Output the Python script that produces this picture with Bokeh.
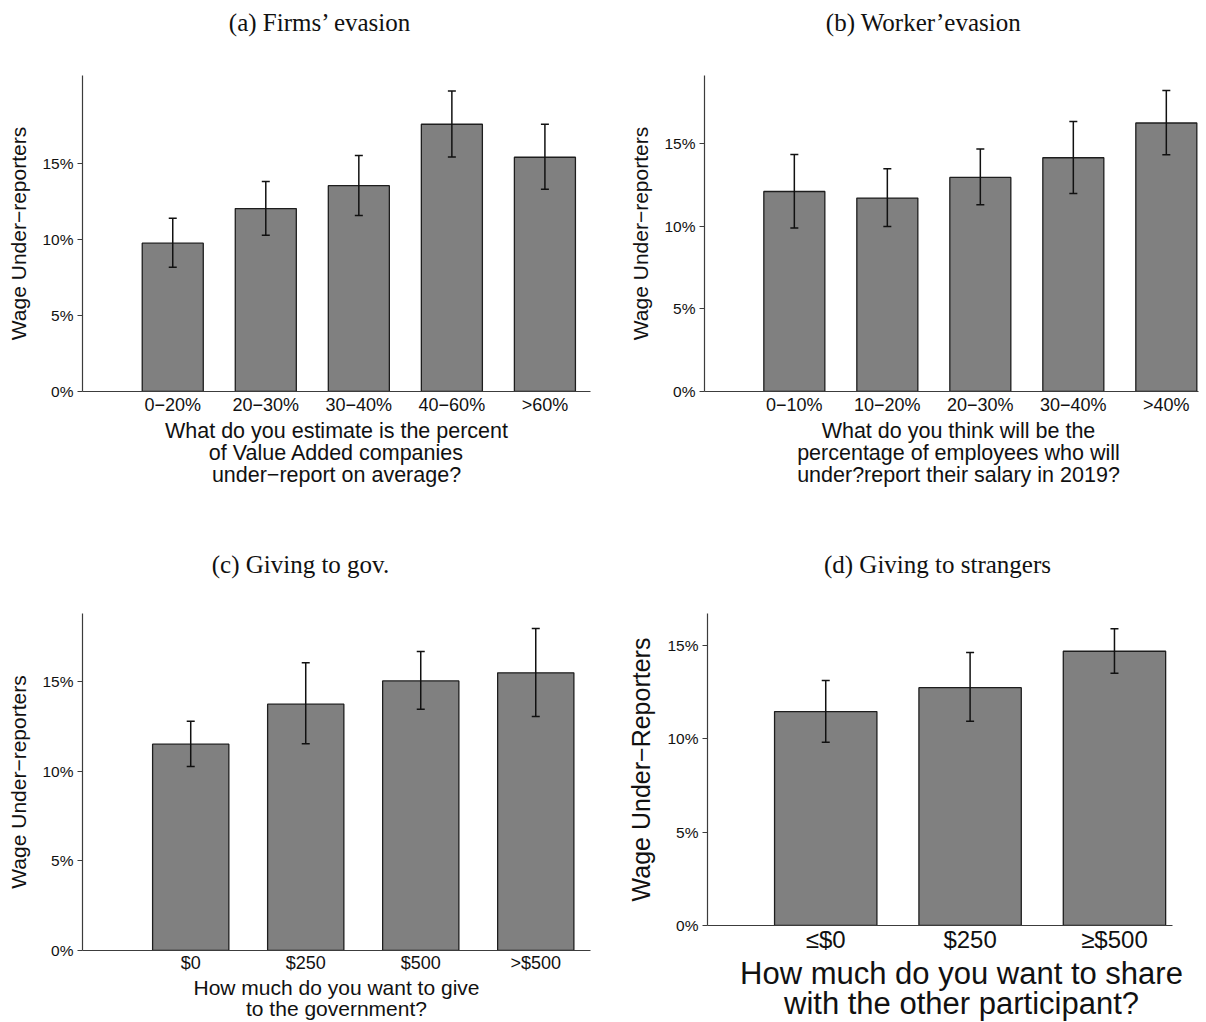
from bokeh.plotting import figure
from bokeh.layouts import column, row
from bokeh.models import (ColumnDataSource, Range1d, FixedTicker, PrintfTickFormatter,
                          Whisker, TeeHead, LinearAxis)
from bokeh.embed import file_html
from bokeh.resources import INLINE

M = "\u2212"  # typographic minus, as used in the labels

# (a) Firms' evasion
a_labels = ["0" + M + "20%", "20" + M + "30%", "30" + M + "40%", "40" + M + "60%", ">60%"]
a_share = [9.76, 12.04, 13.55, 17.59, 15.42]
a_low = [8.18, 10.29, 11.58, 15.44, 13.32]
a_high = [11.41, 13.82, 15.53, 19.78, 17.59]

# (b) Workers' evasion
b_labels = ["0" + M + "10%", "10" + M + "20%", "20" + M + "30%", "30" + M + "40%", ">40%"]
b_share = [12.09, 11.69, 12.94, 14.13, 16.23]
b_low = [9.88, 9.98, 11.29, 11.97, 14.31]
b_high = [14.33, 13.46, 14.66, 16.32, 18.19]

# (c) Giving to the government
c_labels = ["$0", "$250", "$500", ">$500"]
c_share = [11.51, 13.74, 15.04, 15.49]
c_low = [10.26, 11.53, 13.46, 13.05]
c_high = [12.79, 16.05, 16.68, 17.96]

# (d) Giving to strangers
d_labels = ["\u2264$0", "$250", "\u2265$500"]
d_share = [11.45, 12.73, 14.68]
d_low = [9.81, 10.93, 13.50]
d_high = [13.11, 14.61, 15.89]

y_ticks = [0, 5, 10, 15]

SANS = "Liberation Sans"
SERIF = "Liberation Serif"
BAR_FILL = "#808080"
EDGE = "#1e1e1e"
AXIS = "#3c3c3c"
INK = "#111111"

XLAB_CENTER = 254  # question text is centred on the plot region, px from the frame's left


def bare_axis(range_name, pos, text, standoff, font, size, line_h=1.2):
    """An axis with no line or marks that only carries one text at pixel position pos."""
    return LinearAxis(x_range_name=range_name, ticker=FixedTicker(ticks=[pos]),
                      major_label_overrides={pos: text},
                      axis_line_color=None, major_tick_line_color=None,
                      minor_tick_line_color=None, major_tick_in=0, major_tick_out=0,
                      major_label_standoff=standoff,
                      major_label_text_font=font, major_label_text_font_size=size,
                      major_label_text_line_height=line_h,
                      major_label_text_color=INK)


def make_panel(labels, share, low, high, title, xlab, ylab, *, frame_w, frame_h,
               left, right, top, bottom, x_start, x_end, y_end, bar_w,
               title_center, title_standoff, ytick_size, xtick_size, xlab_size, ylab_size,
               xlab_line_h, xtick_standoff, xlab_standoff, ylab_standoff):
    n = len(share)
    xs = list(range(1, n + 1))
    src = ColumnDataSource(dict(x=xs, top=share, lo=low, hi=high))

    p = figure(frame_width=frame_w, frame_height=frame_h,
               min_border_left=left, min_border_right=right,
               min_border_top=top, min_border_bottom=bottom,
               x_range=Range1d(x_start, x_end), y_range=Range1d(0, y_end),
               output_backend="svg", toolbar_location=None, tools="")
    p.outline_line_color = None
    p.grid.visible = False
    p.background_fill_color = "white"
    p.border_fill_color = "white"

    p.vbar(x="x", top="top", bottom=0, width=bar_w, source=src,
           fill_color=BAR_FILL, line_color=EDGE, line_width=1.3)

    p.add_layout(Whisker(source=src, base="x", lower="lo", upper="hi",
                         line_color=INK, line_width=1.5, level="overlay",
                         upper_head=TeeHead(size=8, line_color=INK, line_width=1.5),
                         lower_head=TeeHead(size=8, line_color=INK, line_width=1.5)))

    # y axis: percent ticks, outward marks
    ya = p.yaxis[0]
    ya.ticker = FixedTicker(ticks=y_ticks)
    ya.formatter = PrintfTickFormatter(format="%d%%")
    ya.minor_tick_line_color = None
    ya.major_tick_in = 0
    ya.major_tick_out = 5
    ya.major_tick_line_color = AXIS
    ya.axis_line_color = AXIS
    ya.axis_line_width = 1.2
    ya.major_label_standoff = 4
    ya.major_label_text_font = SANS
    ya.major_label_text_font_size = ytick_size
    ya.major_label_text_color = INK
    ya.axis_label = ylab
    ya.axis_label_text_font = SANS
    ya.axis_label_text_font_style = "normal"
    ya.axis_label_text_font_size = ylab_size
    ya.axis_label_text_color = INK
    ya.axis_label_standoff = ylab_standoff

    # x axis: category names, no tick marks
    xa = p.xaxis[0]
    xa.ticker = FixedTicker(ticks=xs)
    xa.major_label_overrides = {i: lab for i, lab in zip(xs, labels)}
    xa.minor_tick_line_color = None
    xa.major_tick_line_color = None
    xa.major_tick_in = 0
    xa.major_tick_out = 0
    xa.axis_line_color = AXIS
    xa.axis_line_width = 1.2
    xa.major_label_standoff = xtick_standoff
    xa.major_label_text_font = SANS
    xa.major_label_text_font_size = xtick_size
    xa.major_label_text_color = INK

    # pixel-scaled range for texts placed along the frame's width
    p.extra_x_ranges = {"px": Range1d(0, frame_w)}

    # survey question under the categories
    p.add_layout(bare_axis("px", XLAB_CENTER, xlab, xlab_standoff, SANS, xlab_size,
                           xlab_line_h), "below")

    # panel caption above the frame
    p.add_layout(bare_axis("px", title_center, title, title_standoff, SERIF, "25px"), "above")
    return p


pa = make_panel(a_labels, a_share, a_low, a_high, "(a) Firms\u2019 evasion",
                "What do you estimate is the percent\nof Value Added companies\nunder" + M + "report on average?",
                "Wage Under" + M + "reporters",
                frame_w=508, frame_h=316, left=82, right=10, top=75, bottom=139,
                x_start=0.03, x_end=5.49, y_end=20.8, bar_w=0.656,
                title_center=238, title_standoff=40, ytick_size="15.5px", xtick_size="18px",
                xlab_size="21.5px", ylab_size="21px", xlab_line_h=0.92,
                xtick_standoff=3, xlab_standoff=1, ylab_standoff=9)

pb = make_panel(b_labels, b_share, b_low, b_high, "(b) Worker\u2019evasion",
                "What do you think will be the\npercentage of employees who will\nunder?report their salary in 2019?",
                "Wage Under" + M + "reporters",
                frame_w=494, frame_h=316, left=104, right=8, top=75, bottom=139,
                x_start=0.034, x_end=5.346, y_end=19.1, bar_w=0.656,
                title_center=219, title_standoff=40, ytick_size="15.5px", xtick_size="18px",
                xlab_size="21.5px", ylab_size="21px", xlab_line_h=0.92,
                xtick_standoff=3, xlab_standoff=1, ylab_standoff=9)

pc = make_panel(c_labels, c_share, c_low, c_high, "(c) Giving to gov.",
                "How much do you want to give\nto the government?",
                "Wage Under" + M + "reporters",
                frame_w=508, frame_h=337, left=82, right=10, top=83, bottom=72,
                x_start=0.059, x_end=4.476, y_end=18.8, bar_w=0.663,
                title_center=218, title_standoff=36, ytick_size="15.5px", xtick_size="18px",
                xlab_size="21px", ylab_size="21px", xlab_line_h=0.92,
                xtick_standoff=2, xlab_standoff=0, ylab_standoff=9)

pd_ = make_panel(d_labels, d_share, d_low, d_high, "(d) Giving to strangers",
                 "How much do you want to share\nwith the other participant?",
                 "Wage Under" + M + "Reporters",
                 frame_w=465, frame_h=312, left=107, right=34, top=83, bottom=97,
                 x_start=0.181, x_end=3.402, y_end=16.7, bar_w=0.709,
                 title_center=230, title_standoff=36, ytick_size="15.5px", xtick_size="24px",
                 xlab_size="31px", ylab_size="25px", xlab_line_h=0.88,
                 xtick_standoff=0, xlab_standoff=0, ylab_standoff=9)

layout = column(row(pa, pb), row(pc, pd_))

with open("out.html", "w") as f:
    f.write(file_html(layout, INLINE))
